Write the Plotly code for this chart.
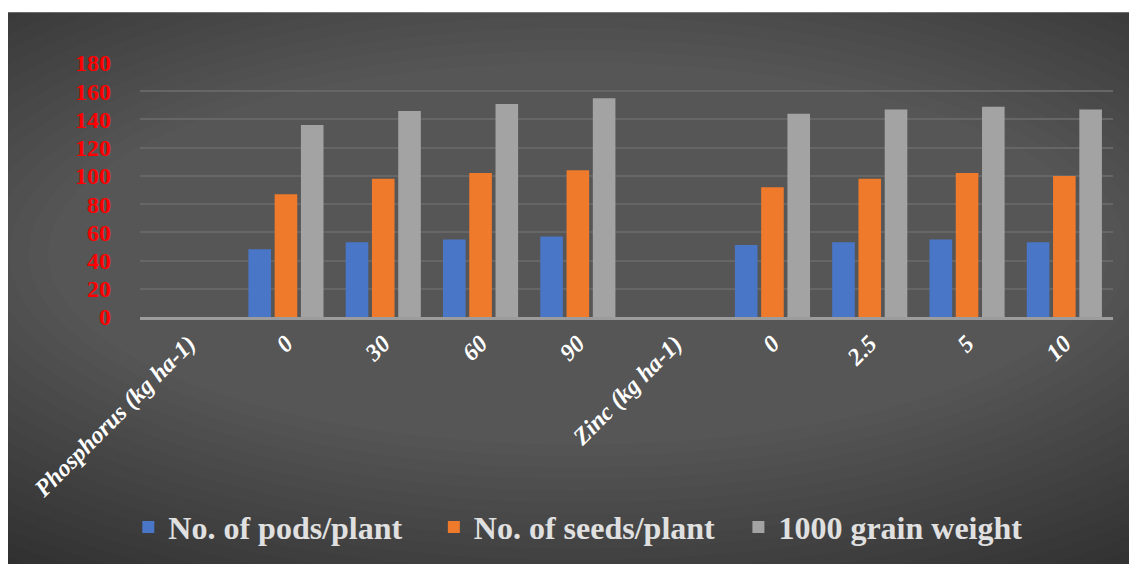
import plotly.graph_objects as go

categories = ["Phosphorus (kg ha-1)", "0", "30", "60", "90",
              "Zinc (kg ha-1)", "0", "2.5", "5", "10"]
pods = [None, 48, 53, 55, 57, None, 51, 53, 55, 53]
seeds = [None, 87, 98, 102, 104, None, 92, 98, 102, 100]
grain = [None, 136, 146, 151, 155, None, 144, 147, 149, 147]
series_names = ["No. of pods/plant", "No. of seeds/plant", "1000 grain weight"]
colors = ["#4a76c8", "#ef7a2c", "#a3a3a3"]
y_ticks = [0, 20, 40, 60, 80, 100, 120, 140, 160, 180]

xpos = list(range(len(categories)))
legend_ids = ["legend", "legend2", "legend3"]
legend_x = [-0.012, 0.302, 0.615]

fig = go.Figure()
for name, vals, col, lg in zip(series_names, [pods, seeds, grain], colors, legend_ids):
    fig.add_trace(go.Bar(x=xpos, y=vals, name=name, marker_color=col,
                         marker_line_width=0, legend=lg))

# background: dark with soft lighter centre (layered ellipses)
shapes = []
n = 24
for i in range(n):
    f = i / n
    shapes.append(dict(type="circle", xref="paper", yref="paper", layer="below",
                       x0=-0.55 + 0.95 * f * 0.5, x1=1.45 - 0.95 * f * 0.5,
                       y0=-1.55 + 2.6 * f * 0.42, y1=2.05 - 2.6 * f * 0.42,
                       fillcolor="rgba(255,255,255,0.011)", line_width=0))
# white strip at top
shapes.append(dict(type="rect", xref="paper", yref="paper", layer="above",
                   x0=-0.3, x1=1.3, y0=1 + 51 / 255, y1=1.5,
                   fillcolor="white", line_width=0))

legend_font = dict(family="Liberation Serif", size=32, color="#e0e0e0", weight="bold")
legends = {}
for lg, lx in zip(legend_ids, legend_x):
    legends[lg] = dict(orientation="h", x=lx, xanchor="left", y=-0.82, yanchor="middle",
                       font=legend_font, itemwidth=30, bgcolor="rgba(0,0,0,0)")

fig.update_layout(
    width=1129, height=556,
    margin=dict(l=132, r=24, t=55, b=246),
    paper_bgcolor="#262626",
    plot_bgcolor="rgba(0,0,0,0)",
    barmode="group", bargap=0.19, bargroupgap=0.14,
    shapes=shapes,
    showlegend=True,
    xaxis=dict(tickmode="array", tickvals=xpos, ticktext=categories,
               tickangle=-45, range=[-0.5, len(categories) - 0.5],
               showgrid=False, showline=True, linecolor="#9c9c9c", linewidth=3,
               ticks="", zeroline=False,
               tickfont=dict(family="Liberation Serif", size=24, color="white",
                             weight="bold", style="italic")),
    yaxis=dict(range=[0, 180], tickmode="array", tickvals=y_ticks,
               showgrid=True, gridcolor="#666666", gridwidth=2,
               zeroline=False, showline=False, ticks="",
               ticklabelstandoff=28,
               tickfont=dict(family="Liberation Serif", size=24, color="#ff0000",
                             weight="bold")),
    **legends,
)

fig.write_html("out.html")
